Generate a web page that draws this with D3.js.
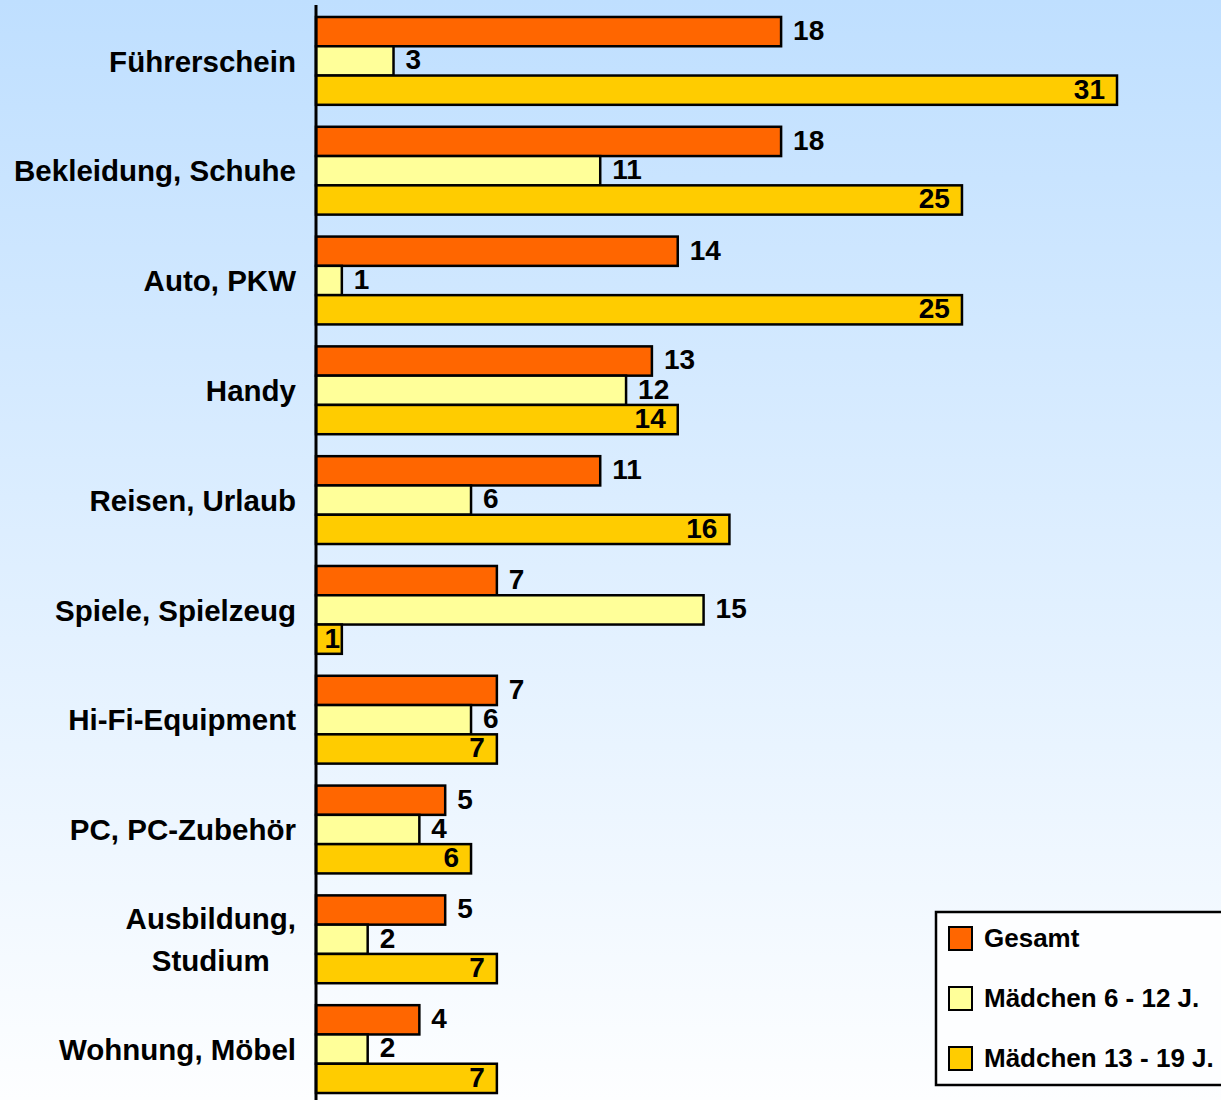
<!DOCTYPE html>
<html>
<head>
<meta charset="utf-8">
<script src="https://cdn.jsdelivr.net/npm/d3@7"></script>
<style>
  body { margin: 0; }
  svg { display: block; font-family: "Liberation Sans", Arial, sans-serif; font-weight: bold; }
</style>
</head>
<body>
<svg width="1221" height="1100"></svg>
<script>
const categories = [
  "Führerschein", "Bekleidung, Schuhe", "Auto, PKW", "Handy", "Reisen, Urlaub",
  "Spiele, Spielzeug", "Hi-Fi-Equipment", "PC, PC-Zubehör", "Ausbildung,\nStudium", "Wohnung, Möbel"
];
const seriesNames = ["Gesamt", "Mädchen 6 - 12 J.", "Mädchen 13 - 19 J."];
const gesamt = [18, 18, 14, 13, 11, 7, 7, 5, 5, 4];
const maedchen6 = [3, 11, 1, 12, 6, 15, 6, 4, 2, 2];
const maedchen13 = [31, 25, 25, 14, 16, 1, 7, 6, 7, 7];
const colors = ["#FF6600", "#FFFF99", "#FFCC00"];

const W = 1221, H = 1100;
const svg = d3.select("svg");

// background gradient
const grad = svg.append("defs").append("linearGradient")
  .attr("id", "bg").attr("x1", 0).attr("y1", 0).attr("x2", 0).attr("y2", 1);
grad.append("stop").attr("offset", "0%").attr("stop-color", "#BFDFFF");
grad.append("stop").attr("offset", "100%").attr("stop-color", "#FDFEFF");
svg.append("rect").attr("width", W).attr("height", H).attr("fill", "url(#bg)");

const series = [gesamt, maedchen6, maedchen13];
const data = categories.map((c, i) => ({ cat: c, vals: series.map(s => s[i]) }));

const x = d3.scaleLinear().domain([0, 31]).range([316, 1117]);
const y = d3.scaleBand().domain(categories).range([6, 1104]).paddingInner(0.2).paddingOuter(0.1);
const ySub = d3.scaleBand().domain(d3.range(3)).range([0, y.bandwidth()]).padding(0);

const groups = svg.selectAll("g.cat")
  .data(data)
  .enter()
  .append("g")
  .attr("class", "cat")
  .attr("transform", d => `translate(0, ${y(d.cat)})`);

groups.selectAll("rect")
  .data(d => d.vals)
  .enter()
  .append("rect")
  .attr("x", x(0))
  .attr("y", (v, i) => ySub(i))
  .attr("width", v => x(v) - x(0))
  .attr("height", ySub.bandwidth())
  .attr("fill", (v, i) => colors[i])
  .attr("stroke", "#000")
  .attr("stroke-width", 2.5);

// value labels: outside for the first two series, inside end for the third
groups.selectAll("text.val")
  .data(d => d.vals)
  .enter()
  .append("text")
  .attr("class", "val")
  .attr("x", (v, i) => i === 2 ? Math.max(x(v) - 12, x(0) + 24) : x(v) + 12)
  .attr("y", (v, i) => ySub(i) + ySub.bandwidth() / 2)
  .attr("dy", "0.3em")
  .attr("text-anchor", (v, i) => i === 2 ? "end" : "start")
  .attr("font-size", 28)
  .attr("fill", "#000")
  .text(v => v);

// axis line
svg.append("line")
  .attr("x1", 316).attr("x2", 316)
  .attr("y1", 5).attr("y2", H)
  .attr("stroke", "#000").attr("stroke-width", 3);

// category labels (multi-line centered on each other, block right aligned)
const labelRight = 296;
groups.each(function(d) {
  const lines = d.cat.split("\n");
  const g = d3.select(this);
  const t = g.append("text")
    .attr("font-size", 29.5)
    .attr("fill", "#000");
  const lh = 42;
  const top = y.bandwidth() / 2 - (lines.length - 1) * lh / 2;
  lines.forEach((l, k) => {
    t.append("tspan").attr("x", 0).attr("y", top + k * lh).attr("dy", "0.36em").text(l);
  });
  let maxW = 0;
  t.selectAll("tspan").each(function() { maxW = Math.max(maxW, this.getComputedTextLength()); });
  t.attr("text-anchor", "middle");
  t.selectAll("tspan").attr("x", labelRight - maxW / 2);
});

// legend
const legend = svg.append("g").attr("transform", "translate(936, 912)");
legend.append("rect")
  .attr("width", 300).attr("height", 173)
  .attr("fill", "#FDFEFF")
  .attr("stroke", "#000").attr("stroke-width", 2.5);
seriesNames.forEach((n, i) => {
  const row = legend.append("g").attr("transform", `translate(13, ${15 + i * 60})`);
  row.append("rect").attr("width", 23).attr("height", 23)
    .attr("fill", colors[i]).attr("stroke", "#000").attr("stroke-width", 2);
  row.append("text").attr("x", 35).attr("y", 11.5).attr("dy", "0.32em")
    .attr("font-size", 26).attr("fill", "#000").text(n);
});
</script>
</body>
</html>
